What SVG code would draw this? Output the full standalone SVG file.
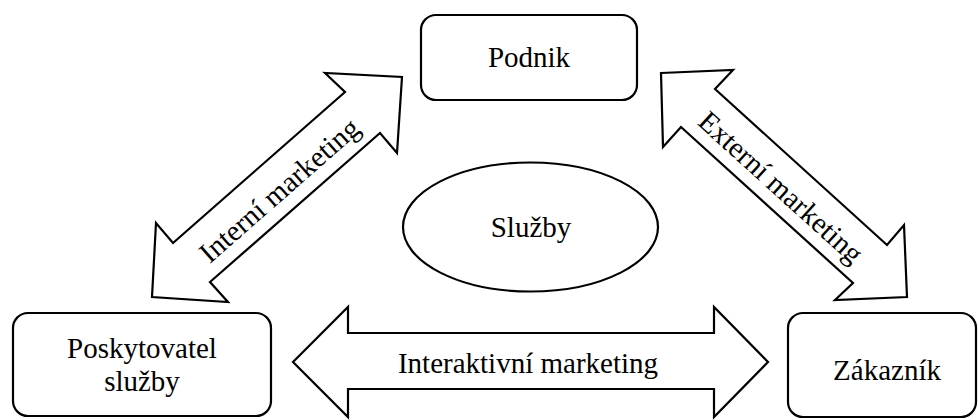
<svg xmlns="http://www.w3.org/2000/svg" width="978" height="420" viewBox="0 0 978 420">
  <style>
    .box { fill: #ffffff; stroke: #000000; stroke-width: 2.2; }
    .arrow { fill: #ffffff; stroke: #000000; stroke-width: 2.2; stroke-linejoin: miter; }
    .lbl { font-family: "Liberation Serif", "Times New Roman", serif; font-size: 29px; fill: #000000; text-anchor: middle; }
  </style>
  <rect width="978" height="420" fill="#ffffff"/>

  <!-- double-headed arrows -->
  <g id="connectors">
    <g id="interni">
      <polygon class="arrow" points="402,77 397,153 380,133 210,282 228,302 152,297 156,223 173,243 345,92 325,73"/>
      <text class="lbl" transform="translate(279,190) rotate(-41.3)" x="0" y="10">Interní marketing</text>
    </g>
    <g id="externi">
      <polygon class="arrow" points="661,73 733,70 715,89 887,245 904,225 907,297 835,300 853,283 681,127 663,147"/>
      <text class="lbl" transform="translate(781,187) rotate(42.2)" x="0" y="10">Externí marketing</text>
    </g>
    <g id="interaktivni">
      <polygon class="arrow" points="293,362 348,307 348,333 714,333 714,307 768,362 714,417 714,389 348,389 348,417"/>
      <text class="lbl" x="528" y="373">Interaktivní marketing</text>
    </g>
  </g>

  <g id="podnik">
    <rect class="box" x="421" y="15" width="216" height="85" rx="15" ry="15"/>
    <text class="lbl" x="529" y="67">Podnik</text>
  </g>

  <g id="sluzby">
    <ellipse class="box" cx="530.5" cy="227" rx="127.5" ry="64.5"/>
    <text class="lbl" x="531" y="237">Služby</text>
  </g>

  <g id="poskytovatel">
    <rect class="box" x="13" y="313" width="258" height="103" rx="15" ry="15"/>
    <text class="lbl" x="142" y="358">Poskytovatel</text>
    <text class="lbl" x="142" y="391">služby</text>
  </g>

  <g id="zakaznik">
    <rect class="box" x="788" y="313" width="188" height="104" rx="15" ry="15"/>
    <text class="lbl" x="887" y="380">Zákazník</text>
  </g>
</svg>
